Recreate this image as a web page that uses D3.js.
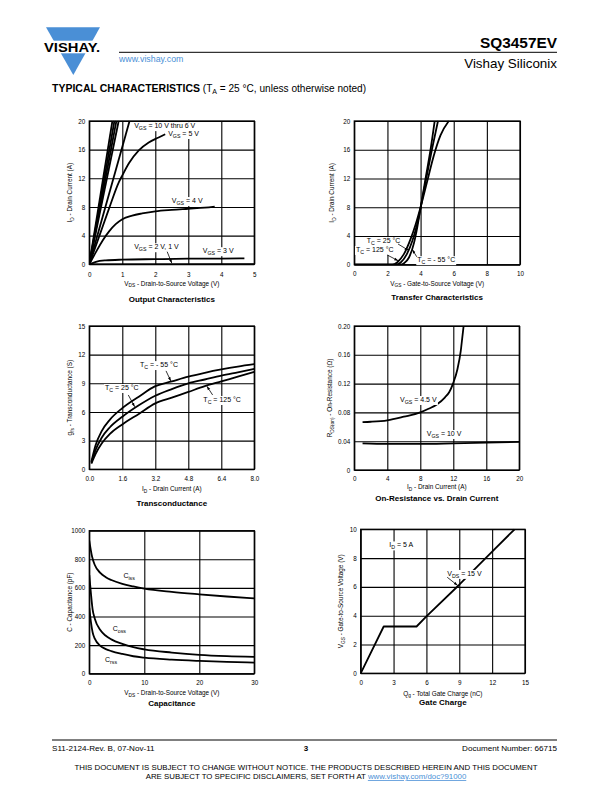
<!DOCTYPE html>
<html><head><meta charset="utf-8">
<script src="https://cdn.jsdelivr.net/npm/d3@7"></script>
<style>
body{margin:0;background:#fff}
svg{display:block;font-family:"Liberation Sans",Arial,Helvetica,sans-serif}
</style></head><body>
<svg id="page" width="612" height="792"></svg>
<script>
// ---------- DATA ----------
// Output characteristics: [VDS (V), ID (A)]
const outVgs10 = [[0,0],[0.70,20]];
const outVgs9  = [[0,0],[0.76,20]];
const outVgs8  = [[0,0],[0.82,20]];
const outVgs7  = [[0,0],[0.89,20]];
const outVgs6  = [[0,0],[1.22,20]];
const outVgs5  = [[0,0],[0.3,3.9],[0.6,7.8],[0.9,11.5],[1.0,12.4],[1.2,14.1],[1.5,15.9],[1.8,17.0],[2.1,17.7],[2.3,18.15]];
const outVgs4  = [[0,0],[0.2,1.7],[0.4,3.3],[0.6,4.6],[0.8,5.6],[1.0,6.3],[1.3,6.8],[1.6,7.1],[2.0,7.4],[2.5,7.6],[3.0,7.75],[3.5,7.9],[3.8,8.05]];
const outVgs3  = [[0,0],[0.2,0.35],[0.5,0.55],[1,0.65],[2,0.72],[3,0.78],[4,0.8],[4.7,0.82]];
const outVgs2  = [[0,0],[5,0.02]];
const outXTicks = [0,1,2,3,4,5];
const outYTicks = [0,4,8,12,16,20];

// Transfer characteristics: [VGS (V), ID (A)]
const trTm55 = [[0,0],[2.8,0],[3.0,0.2],[3.3,1.0],[3.6,3.0],[3.8,5.2],[4.0,7.9],[4.3,12],[4.6,16],[4.85,20]];
const trT25  = [[0,0],[2.5,0],[2.8,0.3],[3.2,1.6],[3.5,3.3],[3.8,5.7],[4.0,7.9],[4.3,11.5],[4.7,16.2],[5.05,20]];
const trT125 = [[0,0],[2.3,0],[2.6,0.35],[3.0,1.5],[3.4,3.6],[3.7,5.6],[4.0,8.0],[4.4,11.6],[4.8,15.2],[5.2,18],[5.7,20]];
const trXTicks = [0,2,4,6,8,10];
const trYTicks = [0,4,8,12,16,20];

// Transconductance: [ID (A), gfs (S)]
const gfsTm55 = [[0.1,0.8],[0.3,2.5],[0.6,4.0],[1.0,5.2],[1.6,6.4],[2.4,7.6],[3.2,8.7],[4.0,9.2],[4.8,9.7],[5.6,10.1],[6.4,10.45],[7.2,10.75],[8.0,11.0]];
const gfsT25  = [[0.1,0.7],[0.3,2.0],[0.6,3.3],[1.0,4.4],[1.6,5.5],[2.4,6.7],[3.2,7.7],[4.0,8.4],[4.8,9.0],[5.6,9.4],[6.4,9.8],[7.2,10.15],[8.0,10.5]];
const gfsT125 = [[0.1,0.6],[0.3,1.6],[0.6,2.7],[1.0,3.7],[1.6,4.7],[2.4,5.8],[3.2,6.9],[4.0,7.5],[4.8,8.1],[5.6,8.7],[6.4,9.2],[7.2,9.7],[8.0,10.2]];
const gfsXTicks = [0,1.6,3.2,4.8,6.4,8.0];
const gfsYTicks = [0,3,6,9,12,15];

// On-resistance: [ID (A), RDS(on) (ohm)]
const rdsVgs45 = [[1,0.0665],[2,0.067],[4,0.069],[6,0.074],[8,0.080],[9,0.085],[10,0.091],[11,0.101],[11.5,0.108],[12,0.121],[12.5,0.14],[12.9,0.165],[13.1,0.185],[13.25,0.20]];
const rdsVgs10 = [[1,0.037],[4,0.0362],[8,0.0362],[12,0.037],[16,0.038],[20,0.039]];
const rdsXTicks = [0,4,8,12,16,20];
const rdsYTicks = [0,0.04,0.08,0.12,0.16,0.20];

// Capacitance: [VDS (V), C (pF)]
const capCiss = [[0,930],[0.5,820],[1,760],[2,705],[3,675],[4,655],[6,628],[8,610],[10,595],[15,572],[20,555],[25,540],[30,527]];
const capCoss = [[0,690],[0.3,560],[0.6,450],[1,385],[2,305],[3,265],[4,240],[6,208],[8,185],[10,170],[15,148],[20,132],[25,123],[30,118]];
const capCrss = [[0,460],[0.3,360],[0.6,290],[1,245],[2,195],[3,172],[4,158],[6,138],[8,122],[10,112],[15,98],[20,89],[25,82],[30,78]];
const capXTicks = [0,10,20,30];
const capYTicks = [0,200,400,600,800,1000];

// Gate charge: [Qg (nC), VGS (V)]
const gateVds15 = [[0,0],[2.1,3.25],[5.1,3.25],[6,3.95],[9,6.15],[12,8.45],[14.05,10]];
const gateXTicks = [0,3,6,9,12,15];
const gateYTicks = [0,2,4,6,8,10];

// ---------- DRAWING ----------
const svg = d3.select('#page');
const FONT_TICK = 6.3, FONT_LBL = 6.4, FONT_ANN = 7.0, FONT_TITLE = 8.0;

const defs = svg.append('defs');
defs.append('marker')
  .attr('id','arrow').attr('viewBox','0 0 10 10').attr('refX',10).attr('refY',5)
  .attr('markerWidth',5).attr('markerHeight',5).attr('orient','auto')
  .append('path').attr('d','M0,1.5 L10,5 L0,8.5 Z').attr('fill','#000');

function rich(sel, str, size){
  const parts = str.split(/(_\{[^}]*\})/).filter(s=>s.length);
  let sub = false;
  parts.forEach(p=>{
    if (p.startsWith('_{')) {
      sel.append('tspan').attr('font-size', size*0.75).attr('dy', size*0.28).text(p.slice(2,-1));
      sub = true;
    } else {
      const t = sel.append('tspan').attr('font-size', size).text(p);
      if (sub) { t.attr('dy', -size*0.28); sub = false; }
    }
  });
  return sel;
}

function chart(c){
  const g = svg.append('g');
  const x = d3.scaleLinear().domain(c.xDomain).range([c.left, c.right]);
  const y = d3.scaleLinear().domain(c.yDomain).range([c.bottom, c.top]);
  const h = c.bottom - c.top, w = c.right - c.left;
  const xa = g.append('g').attr('transform',`translate(0,${c.bottom})`)
    .call(d3.axisBottom(x).tickValues(c.xTicks).tickSize(-h).tickPadding(c.tickOff - 2.2).tickFormat(c.xFmt));
  const ya = g.append('g').attr('transform',`translate(${c.left},0)`)
    .call(d3.axisLeft(y).tickValues(c.yTicks).tickSize(-w).tickPadding(4).tickFormat(c.yFmt));
  [xa, ya].forEach(a=>{
    a.select('.domain').remove();
    a.selectAll('line').attr('stroke','#000').attr('stroke-width',1.1);
    a.selectAll('text').attr('font-size',FONT_TICK).attr('fill','#000')
      .attr('font-family','"Liberation Sans",Arial,sans-serif');
  });
  xa.selectAll('text').attr('dy','0.71em');
  g.append('rect').attr('x',c.left).attr('y',c.top).attr('width',w).attr('height',h)
    .attr('fill','none').attr('stroke','#000').attr('stroke-width',1.3);

  const clipId = 'clip' + Math.round(c.left) + Math.round(c.top);
  defs.append('clipPath').attr('id',clipId)
    .append('rect').attr('x',c.left).attr('y',c.top-1).attr('width',w).attr('height',h+1);
  const cg = g.append('g').attr('clip-path',`url(#${clipId})`);
  c.series.forEach(s=>{
    const line = d3.line().x(d=>x(d[0])).y(d=>y(d[1]))
      .curve(s.linear ? d3.curveLinear : d3.curveMonotoneX);
    cg.append('path').datum(s.data).attr('d',line).attr('fill','none')
      .attr('stroke','#000').attr('stroke-width',s.w || 1.8).attr('stroke-linejoin','round');
  });
  const ag = g.append('g');
  (c.ann||[]).forEach(a=>{
    const bg = ag.append('rect').attr('fill','#fff');
    const t = ag.append('text').attr('x',x(a.at[0])).attr('y',y(a.at[1]))
      .attr('font-size',FONT_ANN).attr('fill','#000');
    rich(t, a.text, FONT_ANN);
    const b = t.node().getBBox();
    bg.attr('x',b.x-1).attr('y',b.y).attr('width',b.width+2).attr('height',b.height);
  });
  (c.arrows||[]).forEach(a=>{
    g.append('line').attr('x1',x(a.from[0])).attr('y1',y(a.from[1]))
      .attr('x2',x(a.to[0])).attr('y2',y(a.to[1]))
      .attr('stroke','#000').attr('stroke-width',0.8).attr('marker-end','url(#arrow)');
  });
  const cx = (c.left + c.right)/2;
  rich(g.append('text').attr('x',cx).attr('y',c.bottom + c.labelOff + 2.2)
    .attr('text-anchor','middle').attr('fill','#000'), c.xLabel, FONT_LBL);
  rich(g.append('text').attr('transform',`translate(${c.yLabelX + 2.2},${(c.top+c.bottom)/2}) rotate(-90)`)
    .attr('text-anchor','middle').attr('fill','#000'), c.yLabel, FONT_LBL);
  g.append('text').attr('x',cx).attr('y',c.bottom + c.titleOff + 2.8)
    .attr('text-anchor','middle').attr('font-weight','bold').attr('font-size',FONT_TITLE).text(c.title);
}

const fmtInt = d3.format('d');

chart({left:89.3,right:254.3,top:121,bottom:264.3,xDomain:[0,5],yDomain:[0,20],
  xTicks:outXTicks,yTicks:outYTicks,xFmt:fmtInt,yFmt:fmtInt,
  tickOff:10,labelOff:19,titleOff:34.4,yLabelX:70,
  xLabel:'V_{DS} - Drain-to-Source Voltage (V)',yLabel:'I_{D} - Drain Current (A)',title:'Output Characteristics',
  series:[{data:outVgs10,linear:true},{data:outVgs9,linear:true},{data:outVgs8,linear:true},{data:outVgs7,linear:true},
    {data:outVgs6,linear:true},{data:outVgs5},{data:outVgs4},{data:outVgs3},{data:outVgs2,linear:true}],
  ann:[{text:'V_{GS} = 10 V thru 6 V',at:[1.36,19.0]},{text:'V_{GS} = 5 V',at:[2.39,17.9]},
    {text:'V_{GS} = 4 V',at:[2.5,8.55]},{text:'V_{GS} = 2 V, 1 V',at:[1.36,2.1]},{text:'V_{GS} = 3 V',at:[3.44,1.55]}],
  arrows:[{from:[2.36,1.76],to:[2.50,0.15]}]
});

chart({left:354.3,right:520,top:121,bottom:264.7,xDomain:[0,10],yDomain:[0,20],
  xTicks:trXTicks,yTicks:trYTicks,xFmt:fmtInt,yFmt:fmtInt,
  tickOff:9.3,labelOff:18.6,titleOff:32,yLabelX:331.7,
  xLabel:'V_{GS} - Gate-to-Source Voltage (V)',yLabel:'I_{D} - Drain Current (A)',title:'Transfer Characteristics',
  series:[{data:trTm55},{data:trT25},{data:trT125}],
  ann:[{text:'T_{C} = 25 °C',at:[0.75,3.0]},{text:'T_{C} = 125 °C',at:[0.1,1.77]},{text:'T_{C} = - 55 °C',at:[3.8,0.35]}],
  arrows:[{from:[2.64,2.88],to:[3.27,2.0]},{from:[1.99,1.35],to:[2.65,0.55]},{from:[3.77,1.1],to:[3.5,2.1]}]
});

chart({left:89.3,right:254.3,top:326,bottom:469.3,xDomain:[0,8],yDomain:[0,15],
  xTicks:gfsXTicks,yTicks:gfsYTicks,xFmt:d3.format('.1f'),yFmt:fmtInt,
  tickOff:9.7,labelOff:19.7,titleOff:34,yLabelX:70,
  xLabel:'I_{D} - Drain Current (A)',yLabel:'g_{fs} - Transconductance (S)',title:'Transconductance',
  series:[{data:gfsTm55},{data:gfsT25},{data:gfsT125}],
  ann:[{text:'T_{C} = - 55 °C',at:[2.46,10.7]},{text:'T_{C} = 25 °C',at:[0.76,8.3]},{text:'T_{C} = 125 °C',at:[5.53,7.04]}],
  arrows:[{from:[3.72,10.3],to:[3.95,9.25]},{from:[1.89,7.78],to:[2.2,6.55]},{from:[5.98,7.78],to:[5.7,8.7]}]
});

chart({left:354.3,right:519.3,top:326,bottom:470,xDomain:[0,20],yDomain:[0,0.2],
  xTicks:rdsXTicks,yTicks:rdsYTicks,xFmt:fmtInt,yFmt:d=>d===0?'0':d3.format('.2f')(d),
  tickOff:8.3,labelOff:16.7,titleOff:27.7,yLabelX:330,
  xLabel:'I_{D} - Drain Current (A)',yLabel:'R_{DS(on)} - On-Resistance (Ω)',title:'On-Resistance vs. Drain Current',
  series:[{data:rdsVgs45},{data:rdsVgs10}],
  ann:[{text:'V_{GS} = 4.5 V',at:[5.54,0.0944]},{text:'V_{GS} = 10 V',at:[8.78,0.0472]}]
});

chart({left:89.3,right:254.3,top:530.7,bottom:673.7,xDomain:[0,30],yDomain:[0,1000],
  xTicks:capXTicks,yTicks:capYTicks,xFmt:fmtInt,yFmt:fmtInt,
  tickOff:8.6,labelOff:19,titleOff:29,yLabelX:70,
  xLabel:'V_{DS} - Drain-to-Source Voltage (V)',yLabel:'C - Capacitance (pF)',title:'Capacitance',
  series:[{data:capCiss},{data:capCoss},{data:capCrss}],
  ann:[{text:'C_{iss}',at:[6.2,666]},{text:'C_{oss}',at:[4.25,299]},{text:'C_{rss}',at:[2.85,85]}]
});

chart({left:360.7,right:525,top:529.3,bottom:673.3,xDomain:[0,15],yDomain:[0,10],
  xTicks:gateXTicks,yTicks:gateYTicks,xFmt:fmtInt,yFmt:fmtInt,
  tickOff:9,labelOff:20,titleOff:28.4,yLabelX:340.7,
  xLabel:'Q_{g} - Total Gate Charge (nC)',yLabel:'V_{GS} - Gate-to-Source Voltage (V)',title:'Gate Charge',
  series:[{data:gateVds15,linear:true}],
  ann:[{text:'I_{D} = 5 A',at:[2.61,8.74]},{text:'V_{DS} = 15 V',at:[7.9,6.76]}],
  arrows:[{from:[7.9,6.67],to:[8.85,6.1]}]
});

// ---------- HEADER ----------
const blue = '#4a8fd6';
svg.append('polygon').attr('points','46,27.3 100,27.3 73.3,75').attr('fill',blue);
svg.append('rect').attr('x',40).attr('y',40.7).attr('width',66).attr('height',12.6).attr('fill','#fff');
svg.append('text').attr('x',44).attr('y',51.8).attr('font-size',13).attr('font-weight','bold')
  .attr('textLength',56).attr('lengthAdjust','spacingAndGlyphs').text('VISHAY.');
svg.append('line').attr('x1',119).attr('x2',557).attr('y1',52.3).attr('y2',52.3).attr('stroke','#000').attr('stroke-width',1);
svg.append('text').attr('x',557).attr('y',47.5).attr('text-anchor','end').attr('font-size',15.4).attr('font-weight','bold').text('SQ3457EV');
svg.append('text').attr('x',557).attr('y',67.5).attr('text-anchor','end').attr('font-size',13.4).text('Vishay Siliconix');
svg.append('text').attr('x',119).attr('y',61.5).attr('font-size',8.8).attr('fill',blue).text('www.vishay.com');
const tc = svg.append('text').attr('x',52).attr('y',91.8).attr('font-size',10.1);
tc.append('tspan').attr('font-weight','bold').attr('font-size',10.5).text('TYPICAL CHARACTERISTICS');
tc.append('tspan').text(' (T');
tc.append('tspan').attr('font-size',7).attr('dy',2.5).text('A');
tc.append('tspan').attr('dy',-2.5).text(' = 25 °C, unless otherwise noted)');

// ---------- FOOTER ----------
svg.append('line').attr('x1',52).attr('x2',557).attr('y1',740).attr('y2',740).attr('stroke','#000').attr('stroke-width',1);
svg.append('text').attr('x',52).attr('y',750.5).attr('font-size',8.1).text('S11-2124-Rev. B, 07-Nov-11');
svg.append('text').attr('x',306).attr('y',751).attr('font-size',8).attr('font-weight','bold').attr('text-anchor','middle').text('3');
svg.append('text').attr('x',557).attr('y',750.5).attr('font-size',8.1).attr('text-anchor','end').text('Document Number: 66715');
svg.append('text').attr('x',306).attr('y',769.8).attr('font-size',7.85).attr('text-anchor','middle')
  .text('THIS DOCUMENT IS SUBJECT TO CHANGE WITHOUT NOTICE. THE PRODUCTS DESCRIBED HEREIN AND THIS DOCUMENT');
const d2 = svg.append('text').attr('x',306).attr('y',779).attr('font-size',7.85).attr('text-anchor','middle');
d2.append('tspan').text('ARE SUBJECT TO SPECIFIC DISCLAIMERS, SET FORTH AT ');
d2.append('tspan').attr('fill',blue).attr('text-decoration','underline').text('www.vishay.com/doc?91000');
</script>
</body></html>
